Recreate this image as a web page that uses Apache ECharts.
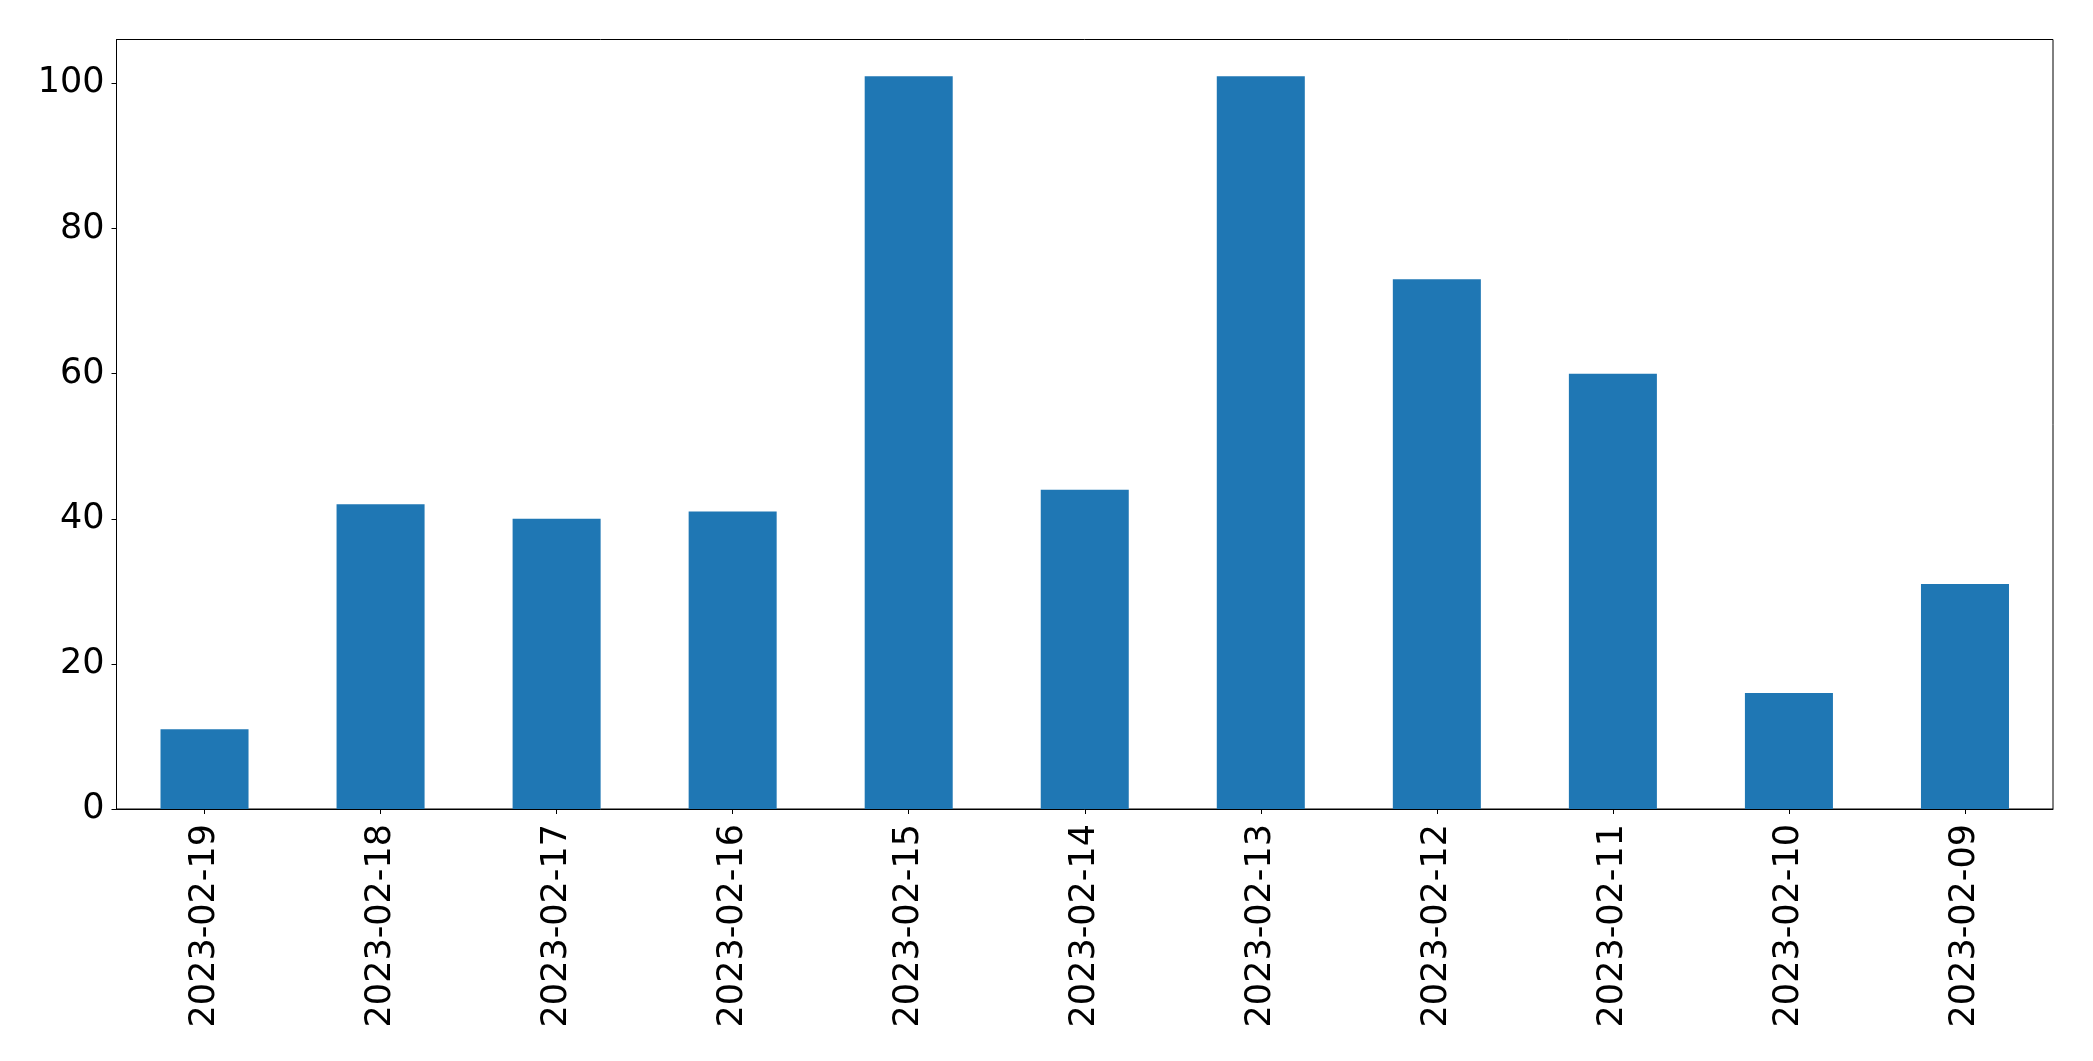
<!DOCTYPE html>
<html>
<head>
<meta charset="utf-8">
<script src="https://cdn.jsdelivr.net/npm/echarts@6/dist/echarts.min.js"></script>
<style>
html,body{margin:0;padding:0;background:#fff;}
#chart{width:2093px;height:1061px;}
</style>
</head>
<body>
<div id="chart"></div>
<script>
const categories = ['2023-02-19','2023-02-18','2023-02-17','2023-02-16','2023-02-15','2023-02-14','2023-02-13','2023-02-12','2023-02-11','2023-02-10','2023-02-09'];
const values = [11, 42, 40, 41, 101, 44, 101, 73, 60, 16, 31];
const yTicks = [0, 20, 40, 60, 80, 100];

const chart = echarts.init(document.getElementById('chart'), null, {renderer: 'canvas'});
const font = 'DejaVu Sans';
chart.setOption({
  animation: false,
  backgroundColor: '#fff',
  grid: {
    left: 116.5, right: 40, top: 39.5, bottom: 252,
    show: true, borderColor: '#000', borderWidth: 1, backgroundColor: 'transparent'
  },
  xAxis: {
    type: 'category',
    data: categories,
    boundaryGap: true,
    axisLine: {show: true, lineStyle: {color: '#000', width: 1}},
    axisTick: {show: true, alignWithLabel: true, length: 5, lineStyle: {color: '#000', width: 1}},
    axisLabel: {rotate: 90, fontFamily: font, fontSize: 35, color: '#000', margin: 15, interval: 0}
  },
  yAxis: {
    type: 'value',
    min: 0, max: 106.05, interval: 20,
    splitLine: {show: false},
    axisLine: {show: true, lineStyle: {color: '#000', width: 1}},
    axisTick: {show: true, length: 5, customValues: yTicks, lineStyle: {color: '#000', width: 1}},
    axisLabel: {fontFamily: font, fontSize: 35, color: '#000', margin: 12, customValues: yTicks}
  },
  series: [{
    type: 'bar',
    data: values,
    barWidth: '50%',
    itemStyle: {color: '#1f77b4'}
  }]
});
</script>
</body>
</html>
